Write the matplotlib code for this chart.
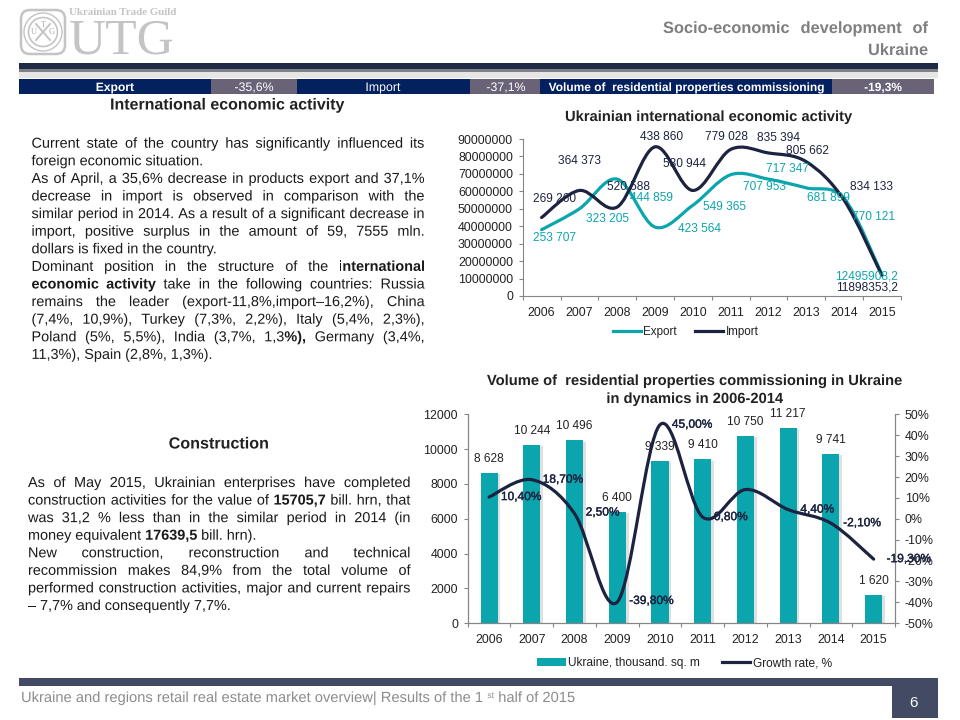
import matplotlib
matplotlib.use("Agg")
import matplotlib.pyplot as plt
import numpy as np
from matplotlib.path import Path
from matplotlib.patches import PathPatch, Rectangle, Circle, FancyBboxPatch, Patch
from matplotlib.lines import Line2D
import matplotlib.patheffects as pe

plt.rcParams['font.family'] = ['Liberation Sans', 'DejaVu Sans']

# ---------- data ----------
years = ['2006', '2007', '2008', '2009', '2010', '2011', '2012', '2013', '2014', '2015']
export_values = [38.0e6, 50.0e6, 67.0e6, 39.5e6, 52.0e6, 69.5e6, 67.0e6, 62.0e6, 56.0e6, 12.5e6]
import_values = [45.0e6, 60.5e6, 51.0e6, 85.5e6, 60.5e6, 84.0e6, 82.0e6, 77.0e6, 55.0e6, 11.9e6]
export_labels = ['253 707', '323 205', '444 859', '423 564', '549 365', '707 953', '717 347', '681 899', '770 121', '12495908,2']
import_labels = ['269 260', '364 373', '520 588', '438 860', '530 944', '779 028', '835 394', '805 662', '834 133', '11898353,2']
housing_values = [8628, 10244, 10496, 6400, 9339, 9410, 10750, 11217, 9741, 1620]
housing_labels = ['8 628', '10 244', '10 496', '6 400', '9 339', '9 410', '10 750', '11 217', '9 741', '1 620']
growth_values = [10.4, 18.7, 2.5, -39.8, 45.0, 0.8, 14.0, 4.4, -2.1, -19.3]
growth_labels = ['10,40%', '18,70%', '2,50%', '-39,80%', '45,00%', '0,80%', '', '4,40%', '-2,10%', '-19,30%']

# label offsets (pixels; x right, y down)
export_off = [(13, 8), (28, 10), (34, 19), (44, 2), (32, 2), (34, 12), (19, -10), (22, 10), (29, 19), (-15, 2)]
import_off = [(13, -19), (0, -29), (11, -20), (6, -10), (-8, -26), (-4, -12), (10, -15), (1, -11), (28, -13), (-15, 12)]
growth_off = [(32, 0), (31, 0), (28, -1), (34, -1), (32, 0), (28, 0), (0, 0), (29, 0), (31, 0), (35, 0)]

TEAL = '#0ba5ae'
DARK = '#1c2340'
NAVY = '#03205f'
MAUVE = '#6a6378'
SLATE = '#434a63'
AXC = '#868686'
TXT = '#222222'
SOFT = [pe.Normal()]   # draws text as paths, with an exact baseline

W, H = 960, 720
fig = plt.figure(figsize=(W / 100, H / 100), dpi=100, facecolor='white')


def axes_px(x0, y0, x1, y1, **kw):
    return fig.add_axes([x0 / W, 1 - y1 / H, (x1 - x0) / W, (y1 - y0) / H], **kw)


bg = fig.add_axes([0, 0, 1, 1], zorder=0)
bg.set_xlim(0, W)
bg.set_ylim(H, 0)
bg.axis('off')
fig.canvas.draw()
renderer = fig.canvas.get_renderer()


def rect(x0, y0, x1, y1, c):
    bg.add_patch(Rectangle((x0, y0), x1 - x0, y1 - y0, fc=c, ec='none'))


def text_w(s, size, weight):
    t = bg.text(0, 0, s, fontsize=size, fontweight=weight)
    w = t.get_window_extent(renderer).width
    t.remove()
    return w


def parse(word):
    parts = word.split('**')
    return [(p, 'bold' if i % 2 else 'normal') for i, p in enumerate(parts) if p]


def draw_line(s, x0, x1, y, size, color='#1a1a1a', justify=True, weight='normal'):
    words = s.split()
    pw = []
    for w in words:
        segs = parse(w)
        if weight == 'bold':
            segs = [(p, 'bold') for p, _ in segs]
        pw.append(segs)
    widths = [sum(text_w(p, size, wt) for p, wt in segs) for segs in pw]
    sp = text_w('a a', size, 'normal') - text_w('aa', size, 'normal')
    gap = sp
    if justify and len(words) > 1:
        gap = (x1 - x0 - sum(widths)) / (len(words) - 1)
    x = x0
    for segs, wd in zip(pw, widths):
        xx = x
        for p, wt in segs:
            bg.text(xx, y, p, fontsize=size, fontweight=wt, color=color, ha='left', va='baseline',
                    path_effects=SOFT)
            xx += text_w(p, size, wt)
        x += wd + gap


def draw_block(lines, x0, x1, y0, dy, size):
    for i, (s, j) in enumerate(lines):
        draw_line(s, x0, x1, y0 + i * dy, size, justify=j)


# ---------- header ----------
rect(19, 63, 938, 69, '#1f2a44')
rect(19, 69, 938, 72, '#7d8289')
rect(19, 72, 938, 78, '#e6e6e6')
strip = [(19, 211, NAVY, 'Export', 'bold', 8.7), (211, 297, MAUVE, '-35,6%', 'normal', 8.9),
         (297, 470, NAVY, 'Import', 'normal', 8.9), (470, 540, MAUVE, '-37,1%', 'normal', 8.9),
         (540, 832, NAVY, 'Volume of  residential properties commissioning', 'bold', 8.6),
         (832, 934, MAUVE, '-19,3%', 'bold', 8.6)]
centers = [115, 254, 383, 506, 686, 883]
for (a, b, c, s, wt, fsz), cx in zip(strip, centers):
    rect(a, 79, b, 94, c)
    bg.text(cx, 91, s, color='white', fontsize=fsz, fontweight=wt, ha='center', va='baseline', path_effects=SOFT)

draw_line('Socio-economic  development  of', 663, 928, 33, 11.8, color='#7f7f7f', weight='bold')
bg.text(928, 55, 'Ukraine', fontsize=11.8, fontweight='bold', color='#7f7f7f', ha='right', va='baseline', path_effects=SOFT)

# logo
LG = '#c4c4c4'
bg.add_patch(FancyBboxPatch((21, 10), 44, 44, boxstyle='round,pad=0,rounding_size=9', fc='none', ec=LG, lw=1.8))
bg.add_patch(Circle((43, 32), 19, fc='none', ec=LG, lw=1.0))
bg.add_patch(Circle((43, 32), 14.5, fc='none', ec=LG, lw=1.2))
bg.plot([36, 50], [24, 40], color=LG, lw=1.4)
bg.plot([50, 36], [24, 40], color=LG, lw=1.4)
for ch, (lx, ly) in zip('UTG', [(34, 32), (43, 25), (52, 32)]):
    bg.text(lx, ly, ch, fontsize=6, family='Liberation Serif', color='#aaaaaa', ha='center', va='center')
bg.text(69, 15, 'Ukrainian Trade Guild', fontsize=7.8, family='Liberation Serif', fontweight='bold',
        color=LG, ha='left', va='baseline')
bg.text(69, 54, 'UTG', fontsize=37, family='Liberation Serif', color=LG, ha='left', va='baseline')

# ---------- section titles and body text ----------
bg.text(228, 105, 'International economic activity', fontsize=11.5, fontweight='bold', color=TXT, ha='center', va='center', path_effects=SOFT)
bg.text(219, 444, 'Construction', fontsize=11.6, fontweight='bold', color=TXT, ha='center', va='center', path_effects=SOFT)

body1 = [
    ('Current state of the country has significantly influenced its', True),
    ('foreign economic situation.', False),
    ('As of April, a 35,6% decrease in products export and 37,1%', True),
    ('decrease in import is observed in comparison with the', True),
    ('similar period in 2014. As a result of a significant decrease in', True),
    ('import, positive surplus in the amount of 59, 7555 mln.', True),
    ('dollars is fixed in the country.', False),
    ('Dominant position in the structure of the i**nternational**', True),
    ('**economic** **activity** take in the following countries: Russia', True),
    ('remains the leader (export-11,8%,import\u201316,2%), China', True),
    ('(7,4%, 10,9%), Turkey (7,3%, 2,2%), Italy (5,4%, 2,3%),', True),
    ('Poland (5%, 5,5%), India (3,7%, 1,3**%),** Germany (3,4%,', True),
    ('11,3%), Spain (2,8%, 1,3%).', False),
]
body2 = [
    ('As of May 2015, Ukrainian enterprises have completed', True),
    ('construction activities for the value of **15705,7** bill. hrn, that', True),
    ('was 31,2 % less than in the similar period in 2014 (in', True),
    ('money equivalent  **17639,5** bill. hrn).', False),
    ('New construction, reconstruction and technical', True),
    ('recommission makes 84,9% from the total volume of', True),
    ('performed construction activities, major and current repairs', True),
    ('\u2013 7,7% and consequently 7,7%.', False),
]
draw_block(body1, 31.5, 424.5, 147.7, 17.6, 10.4)
draw_block(body2, 28, 410.5, 487, 17.57, 10.4)

# ---------- footer ----------
rect(19, 678, 938, 686, SLATE)
rect(892, 686, 938, 718, SLATE)
bg.text(914, 703, '6', color='white', fontsize=11, ha='center', va='center')
FC = '#8c8c8c'
fx = 21
fs = 10.6
for s, size, yy in [('Ukraine and regions retail real estate market overview| Results of the 1', fs, 702),
                    ('st', 6.2, 698), (' half of 2015', fs, 702)]:
    bg.text(fx, yy, s, fontsize=size, color=FC, ha='left', va='baseline', path_effects=SOFT)
    t = bg.text(0, 0, s.replace(' ', 'n') if s.startswith(' ') else s, fontsize=size)
    fx += t.get_window_extent(renderer).width
    t.remove()


# ---------- helpers for the charts ----------
def smooth_path(xs, ys):
    """Cubic segments through the points, as spreadsheet 'smoothed lines' draw them."""
    pts = np.column_stack([xs, ys])
    n = len(pts)
    verts = [pts[0]]
    codes = [Path.MOVETO]
    for i in range(n - 1):
        p0 = pts[max(i - 1, 0)]
        p1 = pts[i]
        p2 = pts[i + 1]
        p3 = pts[min(i + 2, n - 1)]
        verts += [p1 + (p2 - p0) / 6, p2 - (p3 - p1) / 6, p2]
        codes += [Path.CURVE4] * 3
    return Path(verts, codes)


def style_common(ax, nlab):
    ax.set_xlim(0, nlab)
    ax.set_xticks(np.arange(nlab + 1))
    ax.set_xticklabels([])
    ax.set_xticks(np.arange(nlab) + 0.5, minor=True)
    ax.set_xticklabels(years, minor=True, fontsize=8.9, color=TXT)
    ax.tick_params(axis='x', which='minor', length=0, pad=8)
    ax.tick_params(axis='x', which='major', length=3, color=AXC, width=0.8)
    ax.tick_params(axis='y', length=3, color=AXC, width=0.8, labelsize=8.9, labelcolor=TXT, pad=4)
    ax.spines['top'].set_visible(False)
    for s in ax.spines.values():
        s.set_color(AXC)
        s.set_linewidth(0.8)
    ax.patch.set_alpha(0)


def label(ax, x, y, s, off, color, **kw):
    ax.annotate(s, xy=(x, y), xytext=(off[0], -off[1]), textcoords='offset pixels',
                ha='center', va='center', fontsize=8.6, color=color, annotation_clip=False, **kw)


pos = np.arange(len(years)) + 0.5

# ---------- chart 1 ----------
ax1 = axes_px(522.7, 139, 900.7, 296, zorder=2)
style_common(ax1, len(years))
ax1.spines['right'].set_visible(False)
ax1.set_ylim(0, 90000000)
ax1.set_yticks(np.arange(0, 90000001, 10000000))
ax1.set_yticklabels([str(v) for v in range(0, 90000001, 10000000)])
ax1.add_patch(PathPatch(smooth_path(pos, export_values), fill=False, ec=TEAL, lw=2.3, capstyle='round'))
ax1.add_patch(PathPatch(smooth_path(pos, import_values), fill=False, ec=DARK, lw=2.3, capstyle='round'))
for x, v, s, o in zip(pos, export_values, export_labels, export_off):
    label(ax1, x, v, s, o, TEAL)
for x, v, s, o in zip(pos, import_values, import_labels, import_off):
    label(ax1, x, v, s, o, DARK)
bg.text(708.5, 117, 'Ukrainian international economic activity', fontsize=10.6, fontweight='bold', color=TXT, ha='center', va='center', path_effects=SOFT)
fig.legend(handles=[Line2D([], [], color=TEAL, lw=2.3, label='Export'),
                    Line2D([], [], color=DARK, lw=2.3, label='Import')],
           loc='center', bbox_to_anchor=(685.5 / W, 1 - 332 / H), ncol=2, frameon=False, fontsize=8.4,
           handlelength=2.4, handletextpad=0.25, columnspacing=1.5, labelcolor=TXT, borderpad=0)

# ---------- chart 2 ----------
ax2 = axes_px(467.7, 414.3, 895, 623.3, zorder=2)
style_common(ax2, len(years))
ax2.set_ylim(0, 12000)
ax2.set_yticks(np.arange(0, 12001, 2000))
bars = ax2.bar(pos, housing_values, width=0.4, color=TEAL,
               path_effects=[pe.withSimplePatchShadow(offset=(2, -1), alpha=0.18, shadow_rgbFace='#555555')])
for x, v, s in zip(pos, housing_values, housing_labels):
    label(ax2, x, v, s, (0, -14), TXT)

ax3 = ax2.twinx()
ax3.set_zorder(3)
ax3.patch.set_alpha(0)
ax3.set_ylim(-50, 50)
ax3.set_yticks(np.arange(-50, 51, 10))
ax3.set_yticklabels([f'{v}%' for v in range(-50, 51, 10)])
ax3.tick_params(axis='y', length=3, color=AXC, width=0.8, labelsize=8.9, labelcolor=TXT, pad=4)
ax3.spines['top'].set_visible(False)
for s in ax3.spines.values():
    s.set_color(AXC)
    s.set_linewidth(0.8)
ax3.add_patch(PathPatch(smooth_path(pos, growth_values), fill=False, ec=DARK, lw=2.3, capstyle='round'))
for x, v, s, o in zip(pos, growth_values, growth_labels, growth_off):
    if s:
        label(ax3, x, v, s, o, DARK, path_effects=[pe.withStroke(linewidth=0.25, foreground=DARK)])

bg.text(695, 381, 'Volume of  residential properties commissioning in Ukraine', fontsize=10.6, fontweight='bold', color=TXT, ha='center', va='center', path_effects=SOFT)
bg.text(695, 399, 'in dynamics in 2006-2014', fontsize=10.6, fontweight='bold', color=TXT, ha='center', va='center', path_effects=SOFT)
fig.legend(handles=[Patch(fc=TEAL, ec='none', label='Ukraine, thousand. sq. m'),
                    Line2D([], [], color=DARK, lw=2.3, label='Growth rate, %')],
           loc='center', bbox_to_anchor=(684.5 / W, 1 - 663 / H), ncol=2, frameon=False, fontsize=8.6,
           handlelength=2.4, handletextpad=0.2, columnspacing=1.8, labelcolor=TXT, borderpad=0)

fig.savefig('out.png', dpi=100)
